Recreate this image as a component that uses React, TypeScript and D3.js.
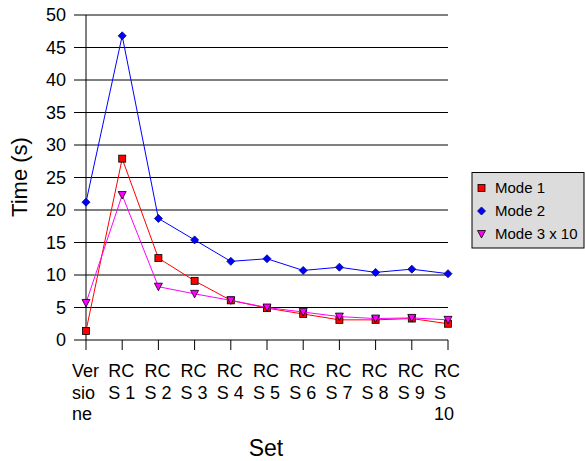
import React from "react";
import * as d3 from "d3";

const categories = ["Versione", "RCS 1", "RCS 2", "RCS 3", "RCS 4", "RCS 5", "RCS 6", "RCS 7", "RCS 8", "RCS 9", "RCS 10"];
const categoryLabelLines = [
  ["Ver", "sio", "ne"],
  ["RC", "S 1"], ["RC", "S 2"], ["RC", "S 3"], ["RC", "S 4"], ["RC", "S 5"],
  ["RC", "S 6"], ["RC", "S 7"], ["RC", "S 8"], ["RC", "S 9"], ["RC", "S", "10"],
];
const mode1 = [1.4, 27.9, 12.6, 9.1, 6.1, 4.9, 4.0, 3.1, 3.1, 3.3, 2.5];
const mode2 = [21.2, 46.8, 18.7, 15.4, 12.1, 12.5, 10.7, 11.2, 10.4, 10.9, 10.2];
const mode3x10 = [5.7, 22.3, 8.2, 7.1, 6.1, 5.0, 4.3, 3.6, 3.3, 3.4, 3.1];
const yTicks = [0, 5, 10, 15, 20, 25, 30, 35, 40, 45, 50];
const seriesNames = ["Mode 1", "Mode 2", "Mode 3 x 10"];

const FONT = "'Liberation Sans', Arial, sans-serif";

export default function App() {
  const W = 585, H = 461;
  const x = d3.scalePoint<string>().domain(categories).range([86, 448]);
  const y = d3.scaleLinear().domain([0, 50]).range([340, 15]);
  const line = d3.line<number>().x((_, i) => x(categories[i])!).y((d) => y(d));

  const series = [
    { name: seriesNames[0], data: mode1, color: "#FF0000", marker: "square" },
    { name: seriesNames[1], data: mode2, color: "#0000FF", marker: "diamond" },
    { name: seriesNames[2], data: mode3x10, color: "#FF00FF", marker: "triangle" },
  ];

  const marker = (type: string, cx: number, cy: number, fill: string, key: any) => {
    if (type === "square") {
      return <rect key={key} x={cx - 3.5} y={cy - 3.5} width={7} height={7} fill={fill} stroke="#000" strokeWidth={0.8} />;
    }
    if (type === "diamond") {
      return <path key={key} d={`M${cx},${cy - 4}L${cx + 4},${cy}L${cx},${cy + 4}L${cx - 4},${cy}Z`} fill={fill} stroke="#000080" strokeWidth={0.8} />;
    }
    return <path key={key} d={`M${cx - 4},${cy - 3.5}L${cx + 4},${cy - 3.5}L${cx},${cy + 4}Z`} fill={fill} stroke="#000" strokeWidth={0.8} />;
  };

  return (
    <svg width={W} height={H} style={{ position: "absolute", left: 0, top: 0, background: "#fff" }} fontFamily={FONT}>
      {yTicks.map((t) => (
        <g key={t}>
          {t > 0 && <line x1={74} x2={448} y1={y(t)} y2={y(t)} stroke="#000" strokeWidth={1} />}
          <text x={66} y={y(t)} dy="0.36em" textAnchor="end" fontSize={18}>{t}</text>
        </g>
      ))}
      <line x1={74} x2={448} y1={y(0)} y2={y(0)} stroke="#000" strokeWidth={1} />
      <line x1={86} x2={86} y1={y(50)} y2={y(0)} stroke="#000" strokeWidth={1} />
      {categories.map((c, i) => (
        <g key={c}>
          <line x1={x(c)!} x2={x(c)!} y1={340} y2={350} stroke="#000" strokeWidth={1} />
          {categoryLabelLines[i].map((l, j) => (
            <text key={j} x={x(c)! - 14} y={377 + j * 21.5} fontSize={18}>{l}</text>
          ))}
        </g>
      ))}
      {series.map((s) => (
        <g key={s.name}>
          <path d={line(s.data)!} fill="none" stroke={s.color} strokeWidth={1} />
          {s.data.map((v, i) => marker(s.marker, x(categories[i])!, y(v), s.color, i))}
        </g>
      ))}
      <text transform={`translate(27,177) rotate(-90)`} textAnchor="middle" fontSize={22}>Time (s)</text>
      <text x={266} y={456} textAnchor="middle" fontSize={23}>Set</text>
      <g>
        <rect x={472} y={172.5} width={112} height={75.5} fill="#DCDCDC" stroke="#000" strokeWidth={1} />
        {series.map((s, i) => (
          <g key={s.name}>
            {marker(s.marker, 481.5, 188 + i * 23, s.color, "m")}
            <text x={495} y={188 + i * 23} dy="0.36em" fontSize={15}>{s.name}</text>
          </g>
        ))}
      </g>
    </svg>
  );
}
